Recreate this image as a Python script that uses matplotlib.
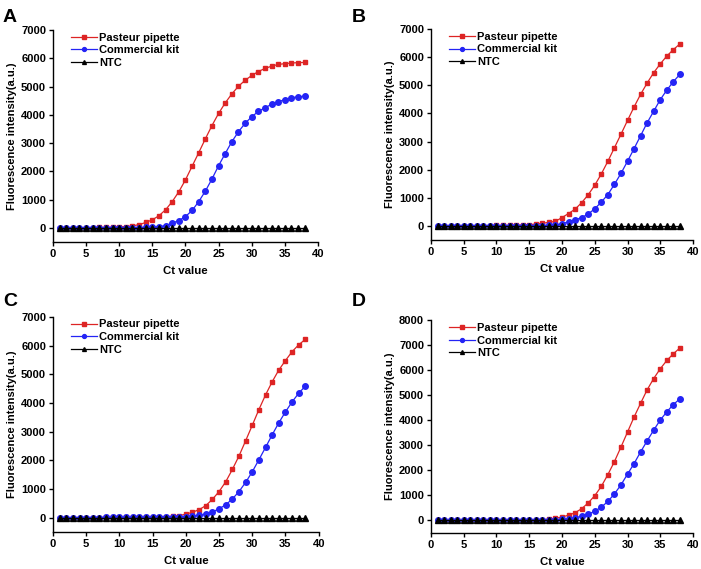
import matplotlib
matplotlib.use("Agg")
import matplotlib.pyplot as plt

plt.rcParams['font.family'] = ['Liberation Sans', 'DejaVu Sans']
plt.rcParams['font.weight'] = 'bold'

cycles = list(range(1, 39))

# panel A
pasteur_a = [0, 2, 4, 6, 9, 12, 15, 19, 24, 32, 45, 70, 115, 190, 285, 430, 640, 930, 1280,
             1700, 2180, 2660, 3150, 3620, 4050, 4420, 4740, 5010, 5220, 5390, 5530, 5640,
             5720, 5780, 5810, 5830, 5845, 5850]
kit_a = [0, 1, 2, 3, 4, 5, 6, 7, 8, 9, 10, 11, 12, 14, 20, 40, 80, 165, 260, 400, 615, 930,
         1300, 1730, 2200, 2630, 3050, 3400, 3700, 3930, 4120, 4250, 4370, 4460, 4540, 4600,
         4640, 4655]
# panel B
pasteur_b = [0, 2, 4, 6, 8, 10, 12, 15, 18, 21, 24, 28, 33, 40, 50, 70, 100, 130, 170, 300,
             445, 600, 830, 1110, 1450, 1850, 2300, 2780, 3260, 3750, 4230, 4680, 5080, 5450,
             5760, 6040, 6270, 6470]
kit_b = [0, 1, 2, 3, 4, 5, 6, 7, 8, 9, 10, 11, 12, 13, 14, 16, 18, 25, 40, 85, 150, 220,
         300, 425, 615, 850, 1120, 1480, 1870, 2300, 2750, 3210, 3670, 4080, 4490, 4830,
         5130, 5390]
# panel C
pasteur_c = [0, 1, 2, 3, 4, 5, 6, 7, 8, 9, 10, 11, 12, 14, 18, 25, 35, 50, 75, 120, 190,
             280, 420, 640, 910, 1250, 1680, 2150, 2680, 3220, 3770, 4280, 4740, 5150, 5480,
             5790, 6030, 6220]
kit_c = [0, 1, 2, 3, 4, 5, 6, 7, 8, 9, 10, 11, 12, 13, 14, 15, 17, 20, 25, 35, 50, 80,
         130, 200, 310, 450, 650, 910, 1230, 1600, 2020, 2450, 2890, 3310, 3690, 4040,
         4340, 4590]
# panel D
pasteur_d = [0, 1, 2, 3, 4, 5, 6, 7, 8, 9, 10, 11, 12, 14, 17, 22, 30, 50, 85, 140, 210,
             310, 470, 700, 990, 1360, 1830, 2350, 2930, 3530, 4130, 4680, 5220, 5670, 6060,
             6390, 6660, 6890]
kit_d = [0, 1, 2, 3, 4, 5, 6, 7, 8, 9, 10, 11, 12, 13, 14, 15, 17, 20, 28, 40, 70, 110,
         170, 250, 370, 530, 760, 1060, 1420, 1850, 2270, 2740, 3180, 3610, 4010, 4340,
         4630, 4860]
ntc = [0] * 38

panels = [
    ("A", pasteur_a, kit_a, 7000, [0.0756, 0.5747, 0.378, 0.3726], (0.004, 0.985)),
    ("B", pasteur_b, kit_b, 7000, [0.6148, 0.5780, 0.3738, 0.371], (0.502, 0.985)),
    ("C", pasteur_c, kit_c, 7000, [0.0756, 0.0650, 0.379, 0.378], (0.004, 0.485)),
    ("D", pasteur_d, kit_d, 8000, [0.6148, 0.0633, 0.3738, 0.374], (0.502, 0.485)),
]

fig = plt.figure(figsize=(7.01, 5.69), dpi=100)

for letter, pp, kit, ymax, pos, lpos in panels:
    ax = fig.add_axes(pos)
    ax.plot(cycles, pp, color='#dd2424', marker='s', markersize=3.5, linewidth=0.9,
            label='Pasteur pipette')
    ax.plot(cycles, kit, color='#2424f5', marker='o', markersize=4.0, linewidth=0.9,
            label='Commercial kit')
    ax.plot(cycles, ntc, color='black', marker='^', markersize=4.0, linewidth=0.9,
            label='NTC')
    ax.set_xlim(0, 40)
    ax.set_ylim(-500, ymax)
    ax.set_xticks(range(0, 41, 5))
    ax.set_yticks(range(0, ymax + 1, 1000))
    ax.spines['top'].set_visible(False)
    ax.spines['right'].set_visible(False)
    ax.spines['left'].set_linewidth(1.0)
    ax.spines['bottom'].set_linewidth(1.0)
    ax.tick_params(direction='out', length=3, width=1.0, labelsize=8, pad=2)
    for lab in ax.get_xticklabels() + ax.get_yticklabels():
        lab.set_fontweight('bold')
    ax.set_xlabel('Ct value', fontsize=8.2, fontweight='bold', labelpad=5)
    ax.set_ylabel('Fluorescence intensity(a.u.)', fontsize=8.0, fontweight='bold', labelpad=3)
    leg = ax.legend(loc='upper left', bbox_to_anchor=(0.03, 1.035), frameon=False,
                    fontsize=8, handlelength=2.35, handletextpad=0.2, labelspacing=0.25,
                    markerscale=0.7)
    for t in leg.get_texts():
        t.set_fontweight('bold')
    fig.text(lpos[0], lpos[1], letter, fontsize=14, fontweight='bold', va='top', ha='left')

fig.savefig('out.png', dpi=100)
